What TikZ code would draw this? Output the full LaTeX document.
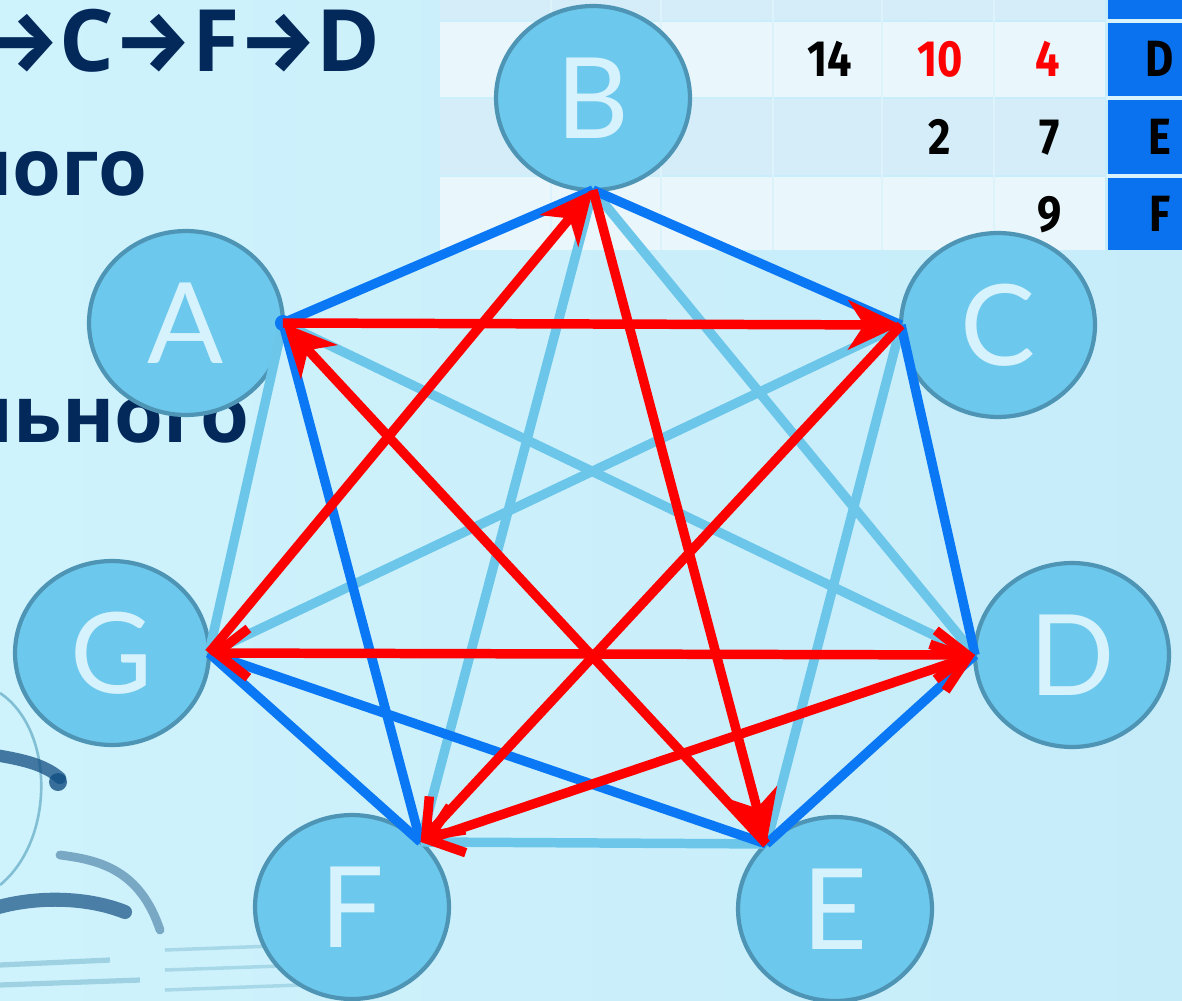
\documentclass[tikz,border=0pt]{standalone}
\usepackage{fontspec}
\usetikzlibrary{shapes.geometric,arrows.meta}
\newfontfamily\headfont{Open Sans}
\newfontfamily\arrfont{Fira Sans}
\newfontfamily\nodefont{Lato}
\newfontfamily\tabfont[FakeStretch=0.85]{Fira Sans}
\definecolor{bgL}{HTML}{CFF3FC}
\definecolor{bgR}{HTML}{C6ECFA}
\definecolor{navy}{HTML}{03285A}
\definecolor{nodefill}{HTML}{6CC8EC}
\definecolor{nodeedge}{HTML}{4E95B5}
\definecolor{nodetext}{HTML}{D6F2FC}
\definecolor{dblue}{HTML}{0A78F5}
\definecolor{lblue}{HTML}{6CC6EA}
\definecolor{cellA}{HTML}{E9F6FC}
\definecolor{cellB}{HTML}{D4EDF8}
\definecolor{gridc}{HTML}{DDF3FC}
\definecolor{colblue}{HTML}{0A72EE}
\definecolor{glassdk}{HTML}{124E82}
\definecolor{glasslt}{HTML}{6FB3CC}
\tikzset{
  vtx/.style={ellipse, draw=nodeedge, line width=2.4pt, fill=nodefill,
    minimum width=3.88cm, minimum height=3.68cm, inner sep=0pt, outer sep=0pt,
    text=nodetext, font=\nodefont\fontsize{64}{64}\selectfont},
  dk/.style={draw=dblue, line width=5.4pt},
  lt/.style={draw=lblue, line width=5.4pt},
  rd/.style={draw=red, line width=5.4pt},
  stl/.style={-{Stealth[length=30pt,width=28pt,inset=9pt]}},
  barb/.style={-{Straight Barb[length=18pt,width=28pt]}},
  dbarb/.style={{Straight Barb[length=18pt,width=28pt]}-{Straight Barb[length=18pt,width=28pt]}},
  num/.style={anchor=base, inner sep=0pt, font=\tabfont\bfseries\fontsize{29}{29}\selectfont},
  head/.style={anchor=base east, inner sep=0pt, text=navy, font=\headfont\bfseries\fontsize{49}{49}\selectfont},
  headc/.style={anchor=base east, inner sep=0pt, text=navy, font=\headfont\bfseries\fontsize{45}{45}\selectfont}
}
\begin{document}
\begin{tikzpicture}[x=0.02cm,y=-0.02cm]
\useasboundingbox (0,0) rectangle (1182,1000);
\clip (0,0) rectangle (1182,1000);
% background
\shade[left color=bgL, right color=bgR] (0,0) rectangle (1182,1000);
% faint glasses in the background
\draw[glasslt, line width=1.5pt, opacity=0.8] (0,693) .. controls (55,730) and (55,840) .. (0,885);
\draw[glassdk, line width=7pt, opacity=0.75, line cap=round] (-5,755) .. controls (25,760) and (45,765) .. (60,778);
\fill[glassdk, opacity=0.8] (58,782) circle (9);
\draw[glassdk, line width=8pt, opacity=0.7, line cap=round] (-5,908) .. controls (40,895) and (90,898) .. (125,912);
\draw[glassdk, line width=5pt, opacity=0.45, line cap=round] (60,855) .. controls (100,860) and (140,870) .. (160,930);
\draw[glasslt, line width=3pt, opacity=0.5] (0,965) -- (110,960);
\draw[glasslt, line width=3pt, opacity=0.5] (0,985) -- (140,980);
\draw[glasslt, line width=2pt, opacity=0.4] (165,950) -- (300,945);
\draw[glasslt, line width=2pt, opacity=0.4] (165,970) -- (310,965);
\draw[glasslt, line width=2pt, opacity=0.4] (165,990) -- (300,985);
% table
\fill[cellB] (440,0) rectangle (1105,20);
\fill[cellA] (440,22) rectangle (1105,97);
\fill[cellB] (440,99) rectangle (1105,175);
\fill[cellA] (440,177) rectangle (1105,250);
\foreach \xx in {551,661,773,882,994} {\draw[gridc, line width=1.6pt] (\xx,0) -- (\xx,250);}
\fill[colblue] (1108,0) rectangle (1182,250);
\foreach \yy in {21,98,176} {\draw[white!85!cyan, line width=1.8pt] (1106,\yy) -- (1182,\yy);}
\node[num] (n14) at (830,77) {14};
\node[num, text=red] (n10) at (940,77) {10};
\node[num, text=red] (n4) at (1048,77) {4};
\node[num] (n2) at (940,155) {2};
\node[num] (n7) at (1050,155) {7};
\node[num] (n9) at (1050,232) {9};
\node[num] (rD) at (1160,77) {D};
\node[num] (rE) at (1160,155) {E};
\node[num] (rF) at (1160,232) {F};
% slide text
\node[head] (t1) at (381,72) {{\arrfont →}C{\arrfont →}F{\arrfont →}D};
\node[headc] (t2) at (148,195) {ного};
\node[headc] (t3) at (250,442) {льного};
% vertices
\node[vtx] (A) at (186,323) {A};
\node[vtx] (B) at (593,98) {B};
\node[vtx] (C) at (998,325) {C};
\node[vtx] (D) at (1072,655) {D};
\node[vtx] (E) at (835,909) {E};
\node[vtx] (F) at (352,907) {F};
\node[vtx] (G) at (112,653) {G};
% light blue edges
\draw[lt] (A.east) -- (G.east);
\draw[lt] (A.east) -- (D.west);
\draw[lt] (B.south) -- (F.north east);
\draw[lt] (B.south) -- (D.west);
\draw[lt] (C.west) -- (G.east);
\draw[lt] (C.west) -- (E.north west);
\draw[lt] (F.north east) -- (E.north west);
% dark blue edges
\draw[dk] (A.east) -- (B.south);
\draw[dk] (B.south) -- (C.west);
\draw[dk] (C.west) -- (D.west);
\draw[dk] (D.west) -- (E.north west);
\draw[dk] (G.east) -- (E.north west);
\draw[dk] (G.east) -- (F.north east);
\draw[dk] (A.east) -- (F.north east);
\fill[dblue] (A.east) circle (8);
% red cycle
\draw[rd, stl] (A.east) -- (C.west);
\draw[rd, barb] (C.west) -- (F.north east);
\draw[rd, dbarb] (F.north east) -- (D.west);
\draw[rd, dbarb] (D.west) -- (G.east);
\draw[rd, stl] (G.east) -- (B.south);
\draw[rd, stl] (B.south) -- (E.north west);
\draw[rd, stl] (E.north west) -- (A.east);
\end{tikzpicture}
\end{document}
